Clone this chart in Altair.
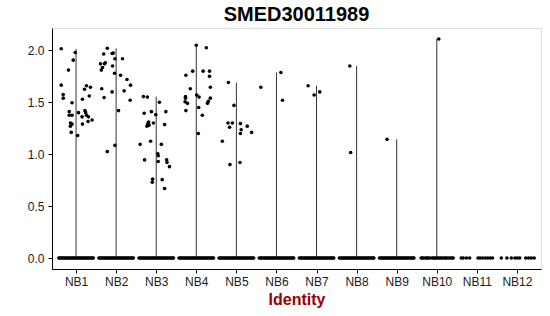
import altair as alt
import pandas as pd

CATEGORIES = ["NB1", "NB2", "NB3", "NB4", "NB5", "NB6", "NB7", "NB8", "NB9", "NB10", "NB11", "NB12"]

# non-zero expression values and their horizontal jitter (in category units)
NB1_VALUES = [2.015, 1.98, 1.906, 1.81, 1.665, 1.575, 1.54, 1.495, 1.41, 1.375, 1.375, 1.30, 1.29, 1.27, 1.21,
              1.18, 1.40, 1.53, 1.36, 1.29, 1.625, 1.66, 1.645, 1.56, 1.42, 1.40, 1.375, 1.36, 1.315, 1.33]
NB1_JITTER = [-0.37, -0.02, -0.07, -0.19, -0.37, -0.32, -0.32, -0.10, -0.17, -0.17, -0.10, -0.14, -0.10, -0.14, -0.12,
              0.04, 0.06, 0.16, 0.15, 0.16, 0.21, 0.26, 0.36, 0.33, 0.22, 0.24, 0.26, 0.31, 0.30, 0.40]
NB2_VALUES = [2.02, 1.965, 1.97, 1.975, 1.87, 1.88, 1.87, 1.835, 1.81, 1.85, 1.92, 1.92, 1.78, 1.76, 1.72, 1.665,
              1.61, 1.52, 1.63, 1.545, 1.60, 1.42, 1.085, 1.025]
NB2_JITTER = [-0.22, -0.31, -0.10, -0.07, -0.39, -0.27, -0.29, -0.34, -0.37, -0.09, -0.03, 0.16, -0.04, 0.11, 0.27,
              0.36, 0.20, 0.35, -0.36, -0.30, -0.10, 0.06, -0.03, -0.22]
NB3_VALUES = [1.555, 1.55, 1.395, 1.41, 1.38, 1.50, 1.41, 1.30, 1.29, 1.27, 1.31, 1.28, 1.30, 1.285, 1.095, 1.125,
              1.095, 0.945, 1.005, 0.985, 0.93, 0.945, 0.92, 0.88, 0.76, 0.73, 0.755, 0.67]
NB3_JITTER = [-0.32, -0.22, -0.30, -0.12, -0.01, 0.08, 0.24, -0.20, -0.21, -0.23, -0.19, -0.18, -0.07, 0.21, -0.40,
              -0.14, 0.13, -0.29, 0.04, 0.05, 0.05, 0.26, 0.27, 0.33, -0.09, -0.10, 0.15, 0.21]
NB4_VALUES = [2.05, 2.025, 1.80, 1.80, 1.80, 1.75, 1.76, 1.63, 1.645, 1.54, 1.51, 1.49, 1.555, 1.54, 1.505, 1.49,
              1.42, 1.57, 1.55, 1.45, 1.375, 1.20]
NB4_JITTER = [0.0, 0.25, -0.09, 0.17, 0.33, 0.33, -0.26, -0.15, 0.35, 0.35, 0.30, 0.28, -0.27, -0.27, -0.28, -0.22,
              -0.26, 0.01, 0.07, 0.06, 0.15, 0.05]
NB5_VALUES = [1.69, 1.47, 1.30, 1.30, 1.26, 1.295, 1.235, 1.20, 1.27, 1.21, 1.125, 0.90, 0.92]
NB5_JITTER = [-0.20, -0.06, -0.21, -0.10, -0.17, 0.10, 0.12, 0.10, 0.27, 0.38, -0.35, -0.16, 0.09]
NB6_VALUES = [1.645, 1.787, 1.52]
NB6_JITTER = [-0.39, 0.11, 0.15]
NB7_VALUES = [1.66, 1.57, 1.60]
NB7_JITTER = [-0.21, -0.06, 0.08]
NB8_VALUES = [1.85, 1.017]
NB8_JITTER = [-0.17, -0.15]
NB9_VALUES = [1.143]
NB9_JITTER = [-0.24]
NB10_VALUES = [2.11]
NB10_JITTER = [0.05]

# jitter of the cells with zero expression
ZERO_JITTER_DENSE = [-0.43, -0.40, -0.37, -0.34, -0.31, -0.28, -0.25, -0.22, -0.19, -0.16, -0.13, -0.10, -0.07,
                     -0.04, -0.01, 0.02, 0.05, 0.08, 0.11, 0.14, 0.17, 0.20, 0.23, 0.26, 0.29, 0.32, 0.35, 0.38,
                     0.41, 0.43]
ZERO_JITTER_NB10 = [-0.39, -0.36, -0.33, -0.28, -0.25, -0.22, -0.18, -0.12, -0.09, -0.05, -0.02, 0.02, 0.06, 0.10,
                    0.13, 0.18, 0.22, 0.25, 0.30, 0.34, 0.38, 0.41]
ZERO_JITTER_NB11 = [-0.39, -0.34, -0.26, -0.18, 0.03, 0.08, 0.14, 0.21, 0.27, 0.33, 0.39]
ZERO_JITTER_NB12 = [-0.39, -0.25, -0.14, -0.05, 0.01, 0.07, 0.22, 0.29, 0.36, 0.43]

NONZERO = {
    "NB1": (NB1_VALUES, NB1_JITTER), "NB2": (NB2_VALUES, NB2_JITTER), "NB3": (NB3_VALUES, NB3_JITTER),
    "NB4": (NB4_VALUES, NB4_JITTER), "NB5": (NB5_VALUES, NB5_JITTER), "NB6": (NB6_VALUES, NB6_JITTER),
    "NB7": (NB7_VALUES, NB7_JITTER), "NB8": (NB8_VALUES, NB8_JITTER), "NB9": (NB9_VALUES, NB9_JITTER),
    "NB10": (NB10_VALUES, NB10_JITTER), "NB11": ([], []), "NB12": ([], []),
}
ZEROS = {c: ZERO_JITTER_DENSE for c in CATEGORIES[:9]}
ZEROS.update({"NB10": ZERO_JITTER_NB10, "NB11": ZERO_JITTER_NB11, "NB12": ZERO_JITTER_NB12})

rows = []
violin = []
for i, cat in enumerate(CATEGORIES):
    idx = i + 1
    vals, jit = NONZERO[cat]
    for v, j in zip(vals, jit):
        rows.append({"ident": cat, "pos": idx + j, "value": v})
    for j in ZEROS[cat]:
        rows.append({"ident": cat, "pos": idx + j, "value": 0.0})
    if vals:
        violin.append({"ident": cat, "pos": idx, "lo": 0.0, "hi": max(vals)})

points = pd.DataFrame(rows)
violins = pd.DataFrame(violin)

label_expr = "[" + ",".join("'%s'" % c for c in CATEGORIES) + "][datum.value - 1]"

xscale = alt.Scale(domain=[0.4, 12.6], nice=False, zero=False)
yscale = alt.Scale(domain=[-0.1055, 2.2155], nice=False, zero=False)

xaxis = alt.Axis(values=list(range(1, 13)), labelExpr=label_expr, title="Identity", grid=False,
                 tickSize=4, labelPadding=3, labelFontSize=12, labelColor="#1a1a1a",
                 titleFontSize=16, titleColor="#9B0000", titleFontWeight="bold", titlePadding=4,
                 domainColor="black", tickColor="black", labelFont="Liberation Sans", titleFont="Liberation Sans")
yaxis = alt.Axis(values=[0, 0.5, 1, 1.5, 2], format=".1f", title=None, grid=False, tickSize=4,
                 labelPadding=4, labelFontSize=12, labelColor="#1a1a1a", domainColor="black",
                 tickColor="black", labelFont="Liberation Sans")

rules = alt.Chart(violins).mark_rule(color="#333333", strokeWidth=1).encode(
    x=alt.X("pos:Q", scale=xscale, axis=xaxis),
    y=alt.Y("lo:Q", scale=yscale, axis=yaxis),
    y2="hi:Q",
)

dots = alt.Chart(points).mark_circle(size=13, color="black", opacity=1).encode(
    x=alt.X("pos:Q", scale=xscale, axis=xaxis),
    y=alt.Y("value:Q", scale=yscale, axis=yaxis),
)

chart = alt.layer(rules, dots).properties(
    width=489, height=241,
    title=alt.TitleParams("SMED30011989", fontSize=20, fontWeight="bold", font="Liberation Sans",
                          anchor="middle", offset=3, color="black"),
    autosize=alt.AutoSizeParams(type="none"),
    padding={"left": 52, "top": 28, "right": 9, "bottom": 47},
).configure_view(stroke=None).configure(background="white")

chart.save("out.html", embed_options={"renderer": "svg", "actions": False})
